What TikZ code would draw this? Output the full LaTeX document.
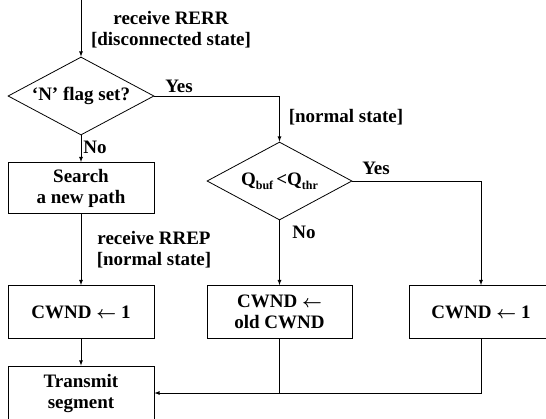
\documentclass[tikz,border=0pt]{standalone}
\usepackage{fontspec}
\setmainfont{Liberation Serif}
\usetikzlibrary{shapes}
\usetikzlibrary{calc}

% lowered small text for the queue names
\newcommand{\lowtxt}[1]{\raisebox{-0.45ex}{\fontsize{12}{12}\selectfont #1}}
% bold assignment arrow
\newcommand{\setto}{{\boldmath$\leftarrow$}}

\begin{document}
\begin{tikzpicture}[>=latex, x=1pt, y=1pt, line width=0.8pt,
		every node/.style={font=\fontsize{19}{21}\selectfont\bfseries},
		block/.style={draw, rectangle, align=center, minimum width=146pt, minimum height=53pt, inner sep=0pt},
		decision/.style={draw, diamond, align=center, minimum width=146pt, minimum height=78pt, inner sep=0pt, shape aspect=1.87},
		lbl/.style={align=center, inner sep=0pt}]
		\useasboundingbox (0,0) rectangle (546,-418);

		% left column
		\coordinate (in) at (81,2);
		\node at (81,-96) (flag) [decision] {`N' flag set?};
		\node at (81,-188) (search) [block, minimum height=51pt] {Search\\a new path};
		\node at (81,-312) (cw1) [block] {CWND \setto\ 1};
		\node at (81,-393) (tx) [block, minimum height=54pt] {Transmit\\segment};

		% middle column
		\coordinate (c1) at (279.5,-96);
		\node at (279.5,-181) (queue) [decision, minimum width=145pt] {Q\lowtxt{buf}\,<Q\lowtxt{thr}};
		\node at (279.5,-312) (cw2) [block, minimum width=145pt] {CWND \setto\\old CWND};

		% right column
		\coordinate (c2) at (481,-181);
		\node at (481,-312) (cw3) [block, minimum width=144pt] {CWND \setto\ 1};

		% labels
		\node [lbl] at (171,-30) (rerr) {receive RERR\\{[}disconnected state{]}};
		\node [lbl] at (179,-86) (yes1) {Yes};
		\node [lbl] at (95,-147) (no1) {No};
		\node [lbl] at (346,-117) (norm1) {{[}normal state{]}};
		\node [lbl] at (376,-168) (yes2) {Yes};
		\node [lbl] at (304,-232) (no2) {No};
		\node [lbl] at (154,-250) (rrep) {receive RREP\\{[}normal state{]}};

		% connectors
		\draw [->] (in) -- (flag.north);
		\draw [->] (flag.south) -- (search.north);
		\draw [->] (search.south) -- (cw1.north);
		\draw [->] (cw1.south) -- (tx.north);
		\draw [->] (flag.east) -- (c1) -- (queue.north);
		\draw [->] (queue.east) -- (c2) -- (cw3.north);
		\draw [->] (queue.south) -- (cw2.north);
		\draw [->] (cw3.south) |- (tx.east);
		\draw (cw2.south) -- (cw2.south |- tx.east);
	\end{tikzpicture}
\end{document}
